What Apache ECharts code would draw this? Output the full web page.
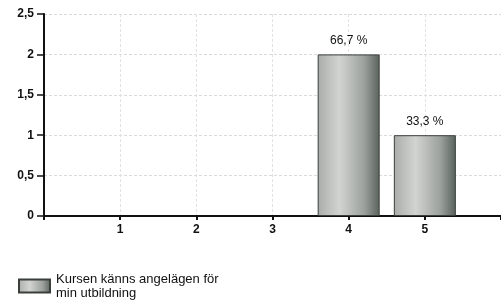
<!DOCTYPE html>
<html>
<head>
<meta charset="utf-8">
<script src="https://cdn.jsdelivr.net/npm/echarts@6/dist/echarts.min.js"></script>
<style>
  html, body { margin: 0; padding: 0; background: #fff; }
  #chart { width: 501px; height: 302px; }
</style>
</head>
<body>
<div id="chart"></div>
<script>
// data
var categories = [1, 2, 3, 4, 5];
var answers = [0, 0, 0, 2, 1];
var percentLabels = ['', '', '', '66,7 %', '33,3 %'];
var seriesName = 'Kursen känns angelägen för\nmin utbildning';

var barData = [];
for (var i = 0; i < categories.length; i++) {
    if (answers[i] > 0) {
        barData.push({ value: [categories[i], answers[i]], label: { formatter: percentLabels[i] } });
    }
}

var chart = echarts.init(document.getElementById('chart'));

var option = {
    animation: false,
    backgroundColor: '#fff',
    textStyle: { fontFamily: 'Liberation Sans, Arial, sans-serif' },
    grid: { left: 44, right: 0, top: 14, bottom: 86, outerBoundsMode: 'none', containLabel: false },
    legend: {
        left: 13,
        top: 267,
        icon: 'rect',
        itemWidth: 31,
        itemHeight: 13,
        itemGap: 5,
        data: [seriesName],
        textStyle: { fontSize: 13, color: '#111', lineHeight: 14, padding: [0, 0, 0, 1] }
    },
    xAxis: {
        type: 'value',
        min: 0,
        max: 6,
        interval: 1,
        axisLine: { lineStyle: { color: '#111', width: 2 } },
        axisTick: { show: true, length: 4, lineStyle: { color: '#111', width: 2 } },
        axisLabel: {
            fontSize: 12, color: '#111', fontWeight: 'bold', margin: 8,
            formatter: function (v) { return (v > 0 && v < 6) ? String(v) : ''; }
        },
        splitLine: { show: true, lineStyle: { color: '#e2e2e2', type: [3, 2], width: 1 } }
    },
    yAxis: {
        type: 'value',
        min: 0,
        max: 2.5,
        interval: 0.5,
        axisLine: { show: true, lineStyle: { color: '#111', width: 2 } },
        axisTick: { show: true, length: 7, lineStyle: { color: '#111', width: 1.5 } },
        axisLabel: {
            fontSize: 12, color: '#111', fontWeight: 'bold', margin: 10,
            formatter: function (v) { return String(v).replace('.', ','); }
        },
        splitLine: { show: true, lineStyle: { color: '#dadada', type: [3, 2], width: 1 } }
    },
    series: [{
        name: seriesName,
        type: 'bar',
        barWidth: 62,
        data: barData,
        itemStyle: {
            borderColor: '#3a3f3b',
            borderWidth: 1,
            color: new echarts.graphic.LinearGradient(0, 0, 1, 0, [
                { offset: 0, color: '#a9ada9' },
                { offset: 0.35, color: '#d2d4d2' },
                { offset: 0.75, color: '#9ca19d' },
                { offset: 1, color: '#59625c' }
            ])
        },
        label: {
            show: true,
            position: 'top',
            distance: 8,
            fontSize: 12,
            color: '#111'
        }
    }]
};

chart.setOption(option);
</script>
</body>
</html>
